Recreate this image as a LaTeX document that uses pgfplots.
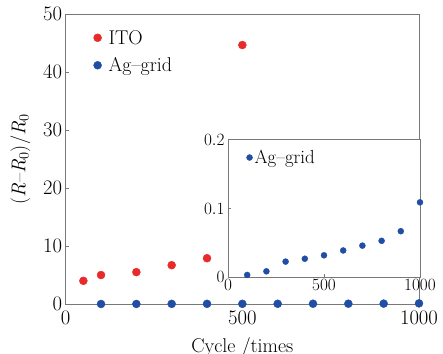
\documentclass[border=0pt]{standalone}
\usepackage{pgfplots}
\pgfplotsset{compat=1.18}
\definecolor{itored}{RGB}{232,42,42}
\definecolor{agblue}{RGB}{32,78,165}
\definecolor{axgray}{RGB}{120,120,120}
\begin{document}
\begin{tikzpicture}
\begin{axis}[
  at={(0bp,0bp)}, anchor=south west,
  scale only axis, width=353.3bp, height=289.7bp,
  xmin=0, xmax=1000, ymin=0, ymax=50,
  xtick={0,500,1000}, ytick={0,10,20,30,40,50},
  /pgf/number format/1000 sep={},
  tick align=inside, xtick pos=bottom, ytick pos=left,
  major tick length=3bp,
  axis line style={axgray, line width=0.7pt},
  every tick/.style={axgray, line width=0.7pt},
  clip=false,
  ticklabel style={font=\fontsize{20}{24}\selectfont},
  xticklabel style={yshift=-4bp},
  xlabel={Cycle /times},
  ylabel={(\textit{R}--\textit{R}$_0$)/\textit{R}$_0$},
  label style={font=\fontsize{20}{24}\selectfont},
  xlabel style={yshift=-6bp},
  ylabel style={yshift=6bp},
  legend style={draw=none, fill=none, at={(0.07,0.96)}, anchor=north west,
    font=\fontsize{20}{24}\selectfont, row sep=8bp,
    /tikz/every even column/.append style={column sep=2bp},
    /tikz/every odd column/.append style={column sep=5bp}},
  legend cell align=left,
  legend image code/.code={\draw[#1] plot coordinates {(0.1cm,0cm)};},
]
\addplot[only marks, mark=*, mark size=4bp, color=itored] coordinates {
 (50,4.0) (100,5.0) (200,5.5) (300,6.7) (400,7.9) (500,44.7)};
\addlegendentry{ITO}
\addplot[only marks, mark=*, mark size=4bp, color=agblue] coordinates {
 (100,0.0034) (200,0.0087) (300,0.0228) (400,0.027) (500,0.032)
 (600,0.039) (700,0.046) (800,0.053) (900,0.067) (1000,0.109)};
\addlegendentry{Ag--grid}
\end{axis}
\begin{axis}[
  at={(162.3bp,26.7bp)}, anchor=south west,
  scale only axis, width=192bp, height=137.6bp,
  xmin=0, xmax=1000, ymin=0, ymax=0.2,
  xtick={0,500,1000}, ytick={0,0.1,0.2},
  /pgf/number format/1000 sep={},
  tick align=inside, xtick pos=bottom, ytick pos=left,
  major tick length=3bp,
  axis line style={axgray, line width=0.7pt},
  every tick/.style={axgray, line width=0.7pt},
  axis background/.style={fill=white},
  clip=false,
  ticklabel style={font=\fontsize{19}{22}\selectfont},
  xticklabel style={yshift=1bp},
  yticklabel style={/pgf/number format/fixed},
  scaled y ticks=false,
  legend style={draw=none, fill=none, at={(0.08,0.955)}, anchor=north west,
    font=\fontsize{19}{22}\selectfont,
    /tikz/every even column/.append style={column sep=0bp}},
  legend image code/.code={\draw[#1] plot coordinates {(0.1cm,0cm)};},
]
\addplot[only marks, mark=*, mark size=3bp, color=agblue] coordinates {
 (100,0.0034) (200,0.0087) (300,0.0228) (400,0.027) (500,0.032)
 (600,0.039) (700,0.046) (800,0.053) (900,0.067) (1000,0.109)};
\addlegendentry{Ag--grid}
\end{axis}
\pgfresetboundingbox
\path[use as bounding box] (-65.7bp,-50bp) rectangle (377.3bp,304bp);
\end{tikzpicture}
\end{document}
